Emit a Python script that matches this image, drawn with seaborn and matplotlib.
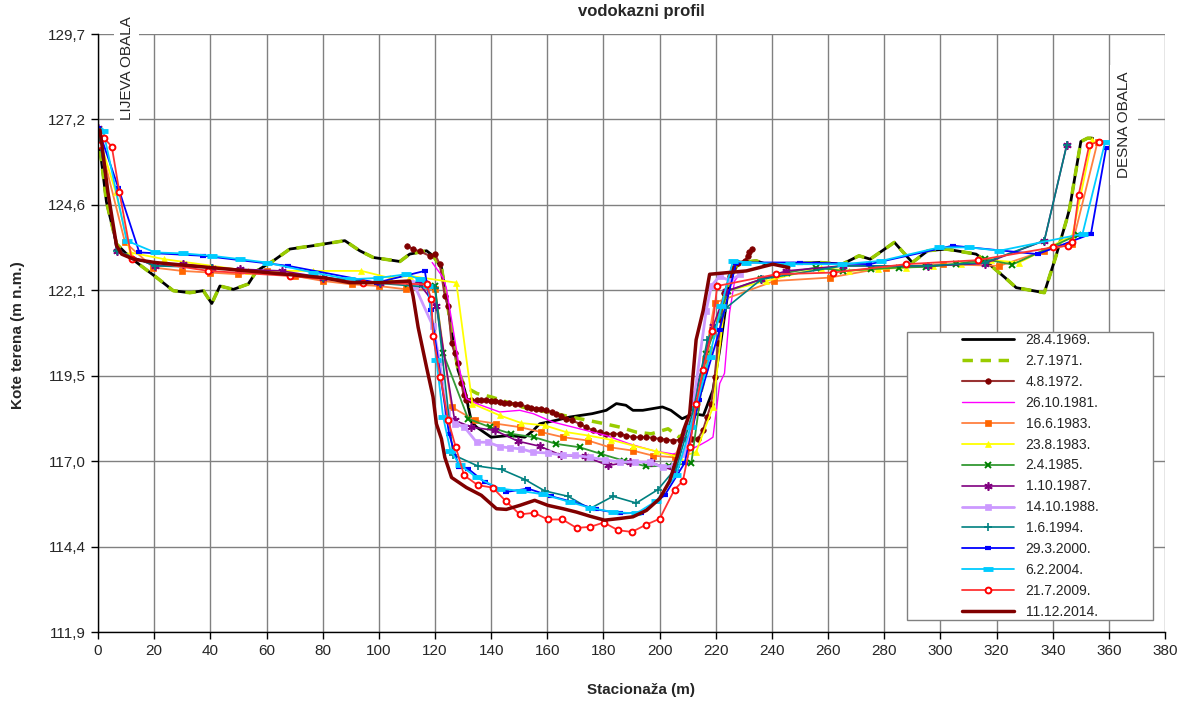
import numpy as np
import pandas as pd
import matplotlib
matplotlib.use("Agg")
import matplotlib.pyplot as plt
import seaborn as sns
from matplotlib.patches import Rectangle

# --- survey data: (stacionaza m, kota terena m n.m.) ---
s_1969 = [(0, 126.76), (3, 124.7), (6.6, 123.45), (11.4, 123.05), (20.9, 122.45), (26.8, 122.06),
          (32.7, 122.0), (37.5, 122.06), (40.5, 121.68), (43.4, 122.2), (48.2, 122.1), (53.5, 122.26),
          (56.5, 122.65), (62.4, 122.95), (68.3, 123.3), (76.6, 123.4), (87.9, 123.55), (93.2, 123.25),
          (98, 123.05), (107.5, 122.93), (111, 123.15), (117, 123.25), (119.3, 123.1), (122.3, 122.75),
          (124, 121.9), (126.4, 120.6), (128.2, 119.7), (130.6, 119.1), (133, 118.15), (134.8, 118.0),
          (140, 117.7), (146.6, 117.75), (152, 117.7), (155, 117.9), (157.3, 118.1), (163, 118.2),
          (168, 118.3), (176, 118.4), (181, 118.5), (184.6, 118.7), (188, 118.65), (190.5, 118.5),
          (194, 118.5), (201, 118.6), (204, 118.5), (208, 118.25), (212, 118.4), (215.6, 118.35),
          (219, 119.1), (221.4, 120.3), (223.7, 121.65), (225, 122.35), (226.7, 122.7), (228.5, 122.9),
          (234.4, 122.95), (238, 122.85), (242.7, 122.85), (257, 122.9), (265, 122.85), (271, 123.1),
          (275, 123.0), (283.6, 123.5), (290, 122.9), (295.5, 123.25), (302, 123.3), (312.7, 123.15),
          (316, 122.95), (323, 122.45), (327, 122.15), (337, 122.0), (341, 123.05), (344.7, 124.1),
          (346, 124.5), (350, 126.5), (352.4, 126.6), (354.2, 126.6)]

s_1971 = [(0, 126.76), (3, 124.7), (6.6, 123.45), (11.4, 123.05), (20.9, 122.45), (26.8, 122.06),
          (32.7, 122.0), (37.5, 122.06), (40.5, 121.68), (43.4, 122.2), (48.2, 122.1), (53.5, 122.26),
          (56.5, 122.65), (62.4, 122.95), (68.3, 123.3), (76.6, 123.4), (87.9, 123.55), (93.2, 123.25),
          (98, 123.05), (107.5, 122.93), (111, 123.15), (117, 123.25), (119.3, 123.1), (122.3, 122.75),
          (124, 121.9), (126.4, 120.6), (128.2, 119.7), (130.6, 119.2), (135, 119.0), (140, 118.9),
          (151, 118.6), (163, 118.4), (168.5, 118.3), (174.5, 118.2), (180.4, 118.1), (185.8, 118.0),
          (191.7, 117.85), (197, 117.8), (203, 117.95), (207, 117.7), (211, 118.0), (214, 118.8),
          (217, 119.8), (220, 121.0), (223, 121.9), (225, 122.35), (226.7, 122.7), (228.5, 122.9),
          (234.4, 122.95), (238, 122.85), (242.7, 122.85), (257, 122.9), (265, 122.85), (271, 123.1),
          (275, 123.0), (283.6, 123.5), (290, 122.9), (295.5, 123.25), (302, 123.3), (312.7, 123.15),
          (316, 122.95), (323, 122.45), (327, 122.15), (337, 122.0), (341, 123.05), (344.7, 124.1),
          (346, 124.5), (350, 126.5), (352.4, 126.6), (354.2, 126.6)]

s_1972 = [(110, 123.4), (112.2, 123.3), (114.6, 123.23), (118.1, 123.1), (120, 123.15), (121.7, 122.85),
          (123.5, 121.9), (124.7, 121.6), (125.9, 120.5), (127, 120.2), (128.2, 119.9), (129.4, 119.3),
          (130.2, 118.95), (131.2, 118.8), (133, 118.8), (135, 118.8), (136.5, 118.8), (138.3, 118.8),
          (140, 118.78), (141.5, 118.77), (143, 118.75), (144.7, 118.73), (146.5, 118.72), (148.4, 118.7),
          (150.2, 118.7), (152.6, 118.6), (154.3, 118.58), (156.1, 118.55), (157.9, 118.55), (159.7, 118.5),
          (161.5, 118.45), (163.2, 118.38), (165, 118.32), (166.8, 118.25), (168.7, 118.2), (171.5, 118.1),
          (173.9, 118.0), (176.3, 117.9), (178.6, 117.85), (181, 117.8), (183.4, 117.8), (185.8, 117.8),
          (188.1, 117.75), (190.5, 117.7), (192.9, 117.7), (195.3, 117.7), (197.6, 117.68), (200, 117.65),
          (202.3, 117.63), (204.7, 117.6), (207.1, 117.62), (209.5, 117.65), (211.6, 117.65), (213.6, 117.65),
          (215.4, 117.9), (216.9, 118.3), (218.4, 118.7), (219.6, 119.5), (220.8, 120.5), (222, 121.2),
          (223.1, 122.0), (224.9, 122.5), (226.1, 122.75), (227.9, 122.9), (230.3, 122.95), (231.4, 123.1),
          (232, 123.2), (233, 123.3)]

s_1981 = [(119, 122.9), (122.9, 122.45), (124, 122.15), (126.4, 120.95), (128.8, 119.7), (131.2, 118.85),
          (134.8, 118.7), (143, 118.45), (150.2, 118.5), (155, 118.4), (162, 118.15), (171.5, 117.95),
          (181, 117.75), (189.3, 117.5), (197.6, 117.3), (204.7, 117.2), (210, 117.3), (214, 117.45),
          (217.2, 117.6), (219, 117.7), (221.4, 119.3), (223.1, 119.6), (224.9, 121.4), (226.7, 122.35),
          (228.5, 122.55)]

s_1983a = [(0, 126.7), (9.6, 123.5), (19.7, 122.75), (29.8, 122.65), (39.9, 122.6), (49.9, 122.55),
           (60, 122.65), (70.1, 122.5), (80.2, 122.35), (90.3, 122.25), (100, 122.2), (109.8, 122.1),
           (120, 122.1), (125.9, 118.6), (134.2, 118.2), (141.9, 118.1), (150.2, 118.0), (157.9, 117.85),
           (165.6, 117.7), (174.5, 117.6), (182.2, 117.4), (190.5, 117.3), (197.6, 117.15), (205.3, 117.1),
           (213, 118.6), (216, 120.0), (219.6, 121.7), (240.9, 122.35), (260.5, 122.45), (280.6, 122.75),
           (300.8, 122.85), (321, 122.8), (337, 123.25), (347, 123.45), (356, 126.5)]

s_1983b = [(0, 126.7), (6.3, 125.0), (11.4, 123.2), (23.5, 123.0), (53.5, 122.65), (76.6, 122.65),
           (93.8, 122.65), (103.9, 122.44), (111, 122.5), (127.6, 122.3), (133.3, 118.7), (143, 118.35),
           (150.8, 118.12), (159.1, 118.05), (166.8, 117.85), (174.5, 117.75), (182.8, 117.62), (190.5, 117.45),
           (198.8, 117.28), (207.1, 117.1), (213, 117.26), (219, 118.6), (223.7, 122.05), (238, 122.35),
           (257.5, 122.75), (267.6, 122.65), (277.7, 122.7), (287.8, 122.75), (297.3, 122.8), (307.4, 122.87),
           (318, 122.97), (328.1, 122.9), (347, 123.7), (354, 126.55)]

s_1985 = [(110.4, 122.26), (116, 122.3), (120, 122.2), (122.9, 120.2), (131.8, 118.25), (139.5, 118.0),
          (147.2, 117.8), (155.3, 117.7), (163.2, 117.5), (171.5, 117.4), (179.2, 117.2), (187.3, 117.0),
          (195.3, 116.83), (203.3, 116.85), (211.3, 116.93), (216.6, 120.18), (224.3, 122.05), (236.2, 122.4),
          (245.5, 122.6), (255.8, 122.75), (265.2, 122.65), (275.3, 122.7), (285.4, 122.75), (294.9, 122.77),
          (305.6, 122.85), (315.7, 123.0), (325.6, 122.84), (348.9, 123.72)]

s_1987 = [(0, 126.9), (6.6, 123.25), (20.3, 122.8), (30.4, 122.85), (40.5, 122.75), (50.5, 122.7),
          (65.4, 122.65), (80.2, 122.45), (100.4, 122.3), (114.3, 122.28), (120.5, 121.6), (127, 118.2),
          (133, 118.0), (141.3, 117.9), (149.6, 117.58), (157.3, 117.43), (165, 117.16), (173.3, 117.13),
          (181.6, 116.86), (189.3, 116.96), (197, 116.95), (205.3, 116.7), (219, 121.0), (223.7, 122.05),
          (236.2, 122.4), (245, 122.65), (265.2, 122.8), (295.5, 122.8), (315.7, 122.87), (337, 123.55),
          (345, 126.4)]

s_1988 = [(111.6, 122.3), (112.8, 122.2), (119.3, 121.0), (121.7, 119.93), (124.1, 118.45), (127, 118.1),
          (130.5, 118.0), (134.8, 117.55), (138.9, 117.55), (143, 117.42), (146.8, 117.38), (150.8, 117.35),
          (155, 117.25), (160.2, 117.23), (165.6, 117.16), (169.8, 117.16), (175.1, 117.1), (180.4, 117.03),
          (185.8, 116.96), (191.1, 116.96), (196.4, 116.96), (201.2, 116.8), (205, 116.85), (208.9, 117.2),
          (211.3, 118.05), (212.5, 119.0), (216.6, 121.47), (218.4, 122.2), (221.4, 122.5), (225, 122.35),
          (228.7, 122.55)]

s_1994 = [(0, 126.9), (6.6, 123.25), (20.3, 122.8), (40.5, 122.75), (80.2, 122.45), (100.4, 122.28),
          (120, 122.15), (126.4, 117.18), (135.3, 116.84), (143.7, 116.74), (152, 116.44), (159.1, 116.1),
          (167.4, 115.94), (175.1, 115.57), (183.4, 115.94), (191.7, 115.74), (199.4, 116.14), (206, 116.8),
          (212, 118.5), (217, 120.6), (223.7, 121.55), (236.2, 122.4), (265.2, 122.8), (295.5, 122.8),
          (315.7, 122.9), (337, 123.55), (345, 126.4)]

s_2000 = [(0, 126.9), (7.2, 125.13), (14.7, 123.2), (37.5, 123.1), (67.7, 122.8), (99.2, 122.3),
          (116.4, 122.65), (118.5, 121.5), (122, 119.5), (125, 117.8), (128.6, 116.8), (131.8, 116.76),
          (137.7, 116.36), (145.4, 116.07), (153.1, 116.17), (161.4, 115.94), (169.1, 115.77), (177.5, 115.55),
          (185.8, 115.43), (193.5, 115.45), (201.8, 115.97), (208.9, 116.93), (214, 118.8), (221.4, 120.9),
          (227.3, 122.9), (250, 122.9), (274.7, 122.85), (304.4, 123.4), (334.6, 123.15), (353.6, 123.75),
          (359, 126.3)]

s_2004 = [(0, 126.85), (1.9, 126.8), (10.2, 123.55), (20.3, 123.2), (30.4, 123.17), (40.5, 123.1),
          (50.5, 123.0), (60, 122.9), (76.6, 122.6), (89.7, 122.4), (99.8, 122.44), (109.8, 122.55),
          (114.6, 122.4), (117.5, 122.2), (120.5, 120.0), (122.9, 118.3), (125.5, 117.3), (128.8, 116.88),
          (134.8, 116.5), (143, 116.17), (150.5, 116.1), (158.5, 116.0), (168, 115.77), (175.1, 115.6),
          (183.4, 115.47), (191.7, 115.43), (198.8, 115.8), (205.9, 116.57), (211, 118.0), (217.8, 120.1),
          (222, 121.6), (226.1, 122.95), (230.9, 122.9), (246.3, 122.85), (265, 122.85), (279, 122.95),
          (299.6, 123.35), (310.3, 123.35), (321, 123.25), (350.6, 123.75), (358.7, 126.5)]

s_2009 = [(0.5, 126.4), (2.2, 126.6), (4.9, 126.35), (7.6, 125.0), (12, 123.0), (39.3, 122.65),
          (68.3, 122.5), (94.4, 122.3), (117, 122.25), (118.7, 121.8), (119.3, 120.7), (121.9, 119.5),
          (124.7, 118.2), (127.4, 117.4), (130.4, 116.56), (135.3, 116.27), (140.5, 116.2), (145.2, 115.8),
          (150.2, 115.4), (155.3, 115.45), (160.2, 115.25), (165.4, 115.25), (170.4, 115.0), (175.3, 115.03),
          (180.1, 115.16), (185.2, 114.93), (190.1, 114.88), (195.3, 115.1), (200, 115.27), (205.3, 116.14),
          (208.3, 116.4), (210.7, 117.4), (213, 118.7), (215.5, 119.7), (218.6, 120.85), (220.5, 122.2),
          (241.5, 122.55), (261.7, 122.6), (287.8, 122.85), (313.3, 122.97), (340, 123.35), (345.3, 123.4),
          (347, 123.5), (349.2, 124.9), (353, 126.4), (356.3, 126.5)]

s_2014 = [(0.7, 126.85), (3.5, 125.0), (6.6, 123.4), (8.4, 123.15), (12.6, 123.0), (20.3, 122.9),
          (39.9, 122.75), (60, 122.6), (80.2, 122.45), (89.7, 122.3), (100.4, 122.3), (111, 122.35),
          (112.2, 121.9), (114, 120.97), (117, 119.78), (119.3, 118.9), (120.5, 118.1), (122.3, 117.65),
          (123.5, 117.1), (125.9, 116.5), (131.2, 116.2), (136.5, 115.97), (141.9, 115.57), (145.4, 115.55),
          (150.2, 115.67), (155.5, 115.82), (160.2, 115.67), (165.6, 115.57), (170.4, 115.47), (175.1, 115.35),
          (180.4, 115.23), (185.8, 115.28), (190.5, 115.33), (195.3, 115.52), (200, 115.87), (203.6, 116.4),
          (206.5, 117.2), (208.5, 117.9), (210.7, 118.4), (213, 120.6), (215.5, 121.47), (217.8, 122.55),
          (230.9, 122.65), (240.3, 122.85), (246, 122.75)]

dates = ["28.4.1969.", "2.7.1971.", "4.8.1972.", "26.10.1981.", "16.6.1983.", "23.8.1983.", "2.4.1985.",
         "1.10.1987.", "14.10.1988.", "1.6.1994.", "29.3.2000.", "6.2.2004.", "21.7.2009.", "11.12.2014."]
series = [s_1969, s_1971, s_1972, s_1981, s_1983a, s_1983b, s_1985,
          s_1987, s_1988, s_1994, s_2000, s_2004, s_2009, s_2014]

x_ticks = list(range(0, 381, 20))
y_min, y_max = 111.9, 129.7

# line / marker styles roughly like the excel chart
styles = [
    dict(color="black", lw=2),
    dict(color="#99CC00", lw=2.5, linestyle=(0, (3, 2.2))),
    dict(color="#993333", lw=1.5, marker="o", ms=4, mfc="#800000", mec="#800000", mew=0.5),
    dict(color="#FF00FF", lw=1),
    dict(color="#FF8040", lw=1.3, marker="s", ms=4, mfc="#FF6600", mec="#FF6600", mew=0.5),
    dict(color="#FFFF00", lw=1.3, marker="^", ms=5, mfc="#FFFF00", mec="#FFFF00", mew=0.5),
    dict(color="#339933", lw=1.3, marker="x", ms=5, mec="#008000", mew=1.4),
    dict(color="#800080", lw=1.2, marker=(6, 2, 0), ms=6, mec="#800080", mew=1.2),
    dict(color="#CC99FF", lw=2, marker="s", ms=4, mfc="#CC99FF", mec="#CC99FF", mew=0.5),
    dict(color="#008080", lw=1.2, marker="+", ms=6, mec="#008080", mew=1.2),
    dict(color="#0000FF", lw=1.3, marker="_", ms=4.5, mec="#0000FF", mew=3),
    dict(color="#00CCFF", lw=1.3, marker="_", ms=7, mec="#00CCFF", mew=3.5),
    dict(color="#FF3333", lw=1.3, marker="o", ms=4.2, mfc="white", mec="#FF0000", mew=1.4),
    dict(color="#800000", lw=2.5),
]

sns.set_style("white")
plt.rcParams['font.family'] = ['Liberation Sans', 'DejaVu Sans']

fig = plt.figure(figsize=(11.84, 7.01), dpi=100)
ax = fig.add_axes([0.0828, 0.0984, 0.9012, 0.853])

for name, pts, st in zip(dates, series, styles):
    df = pd.DataFrame(pts, columns=["stac", "kota"])
    sns.lineplot(data=df, x="stac", y="kota", ax=ax, sort=False, estimator=None, label=name, **st)

ax.set_xlim(0, 380)
ax.set_ylim(y_min, y_max)
ax.set_xticks(x_ticks)
yt = np.linspace(y_min, y_max, 8)
ax.set_yticks(yt)
ax.set_yticklabels([f"{v:.1f}".replace(".", ",") for v in yt])
ax.tick_params(labelsize=11, direction="out", length=5, width=1, color="black", left=True, bottom=True)
ax.grid(True, color="#808080", lw=1)
ax.set_axisbelow(True)
for s in ["top", "right"]:
    ax.spines[s].set_visible(False)
for s in ["left", "bottom"]:
    ax.spines[s].set_color("black")
    ax.spines[s].set_linewidth(1)
ax.set_xlabel("")
ax.set_ylabel("")

# legend with excel-like box
ax.add_patch(Rectangle((0.758, 0.020), 0.231, 0.482, transform=ax.transAxes,
                       facecolor="white", edgecolor="#808080", lw=1, zorder=4))
handles, labels = ax.get_legend_handles_labels()
leg = ax.legend(handles, labels, loc="center", bbox_to_anchor=(0.8735, 0.261), frameon=False,
                fontsize=10, handlelength=3.8, handletextpad=0.8, labelspacing=0.5, borderaxespad=0)
leg.set_zorder(5)

# bank annotations
ax.text(10.3, 128.7, "LIJEVA OBALA", rotation=90, ha="center", va="center", fontsize=11,
        bbox=dict(fc="white", ec="none", pad=4), zorder=6)
ax.text(365.5, 127.0, "DESNA OBALA", rotation=90, ha="center", va="center", fontsize=11,
        bbox=dict(fc="white", ec="none", pad=5), zorder=6)

fig.text(0.5414, 0.983, "vodokazni profil", ha="center", va="center", fontsize=12, fontweight="bold")
fig.text(0.5414, 0.0157, "Stacionaža (m)", ha="center", va="center", fontsize=11, fontweight="bold")
fig.text(0.0152, 0.522, "Kote terena (m n.m.)", ha="center", va="center", rotation=90,
         fontsize=11, fontweight="bold")

fig.savefig("out.png", dpi=100)
